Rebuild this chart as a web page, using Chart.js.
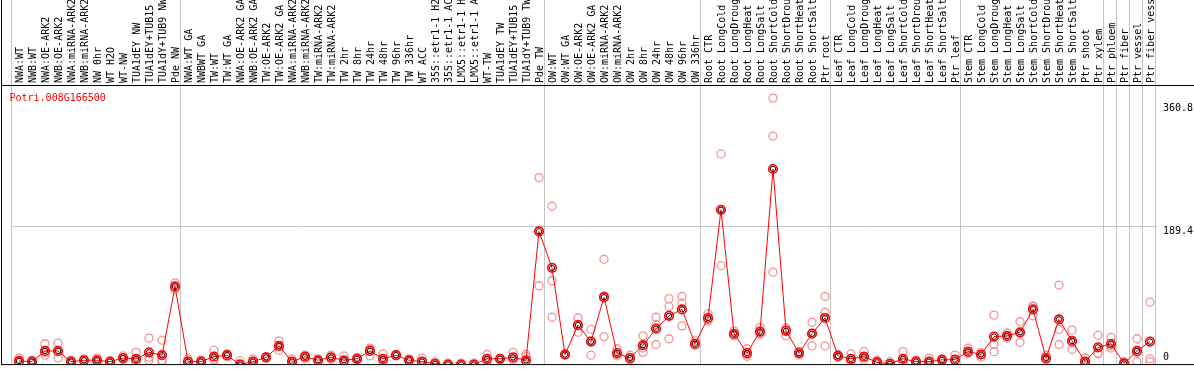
<!DOCTYPE html>
<html>
<head>
<meta charset="utf-8">
<script src="https://cdn.jsdelivr.net/npm/chart.js@4.4.1/dist/chart.umd.min.js"></script>
<style>
  html, body { margin: 0; padding: 0; background: #ffffff; }
  canvas { display: block; }
</style>
</head>
<body>
<canvas id="expressionChart" width="1194" height="370"></canvas>
<script>
const geneId = "Potri.008G166500";

const categories = [
  "NWA:WT", "NWB:WT", "NWA:OE-ARK2", "NWB:OE-ARK2", "NWA:miRNA-ARK2", "NWB:miRNA-ARK2",
  "NW 0hr", "WT H2O", "WT-NW", "TUA1dEY NW", "TUA1dEY+TUB15", "TUA1dY+TUB9 NW", "Pde NW",
  "NWA:WT GA", "NWBWT GA", "TW:WT", "TW:WT GA", "NWA:OE-ARK2 GA", "NWB:OE-ARK2 GA",
  "TW:OE-ARK2", "TW:OE-ARK2 GA", "NWA:miRNA-ARK2", "NWB:miRNA-ARK2", "TW:miRNA-ARK2",
  "TW:miRNA-ARK2", "TW 2hr", "TW 8hr", "TW 24hr", "TW 48hr", "TW 96hr", "TW 336hr",
  "WT ACC", "35S::etr1-1 H2", "35S::etr1-1 AC", "LMX5::etr1-1 H", "LMX5::etr1-1 A",
  "WT-TW", "TUA1dEY TW", "TUA1dEY+TUB15", "TUA1dY+TUB9 TW", "Pde TW",
  "OW:WT", "OW:WT GA", "OW:OE-ARK2", "OW:OE-ARK2 GA", "OW:miRNA-ARK2", "OW:miRNA-ARK2",
  "OW 2hr", "OW 8hr", "OW 24hr", "OW 48hr", "OW 96hr", "OW 336hr",
  "Root CTR", "Root LongCold", "Root LongDroug", "Root LongHeat", "Root LongSalt",
  "Root ShortCold", "Root ShortDrou", "Root ShortHeat", "Root ShortSalt", "Ptr root",
  "Leaf CTR", "Leaf LongCold", "Leaf LongDroug", "Leaf LongHeat", "Leaf LongSalt",
  "Leaf ShortCold", "Leaf ShortDrou", "Leaf ShortHeat", "Leaf ShortSalt", "Ptr leaf",
  "Stem CTR", "Stem LongCold", "Stem LongDroug", "Stem LongHeat", "Stem LongSalt",
  "Stem ShortCold", "Stem ShortDrou", "Stem ShortHeat", "Stem ShortSalt", "Ptr shoot",
  "Ptr xylem", "Ptr phloem", "Ptr fiber", "Ptr vessel", "Ptr fiber vess"
];

// first category index of each group, plus the end
const groupBreaks = [0, 13, 41, 53, 63, 73, 84, 85, 86, 87, 88];

const meanValues = [
  1, 0, 15, 15, 0, 2, 2, 0, 5, 4, 13, 9, 105,
  0, 0, 7, 9, -4, 0, 6, 22, 0, 7, 2, 6, 2, 4, 15, 4, 9, 2, 0, -3, -4, -4, -4, 4, 4, 6, 2, 182,
  131, 10, 51, 28, 90, 12, 5, 23, 46, 64, 73, 25,
  61, 212, 39, 12, 42, 269, 43, 12, 39, 61,
  8, 4, 7, -1, -3, 4, 0, 0, 2.5, 3,
  14, 10, 35, 36, 41, 73, 5, 59, 29, 0, 20,
  25, -2.5, 15, 28
];

const rep1 = [
  5, 2, 25, 26, 2, 4, 5, 1, 8, 13, 33, 30, 110,
  4, 2, 16, 11, 1, 4, 7, 29, 4, 9, 4, 9, 8, 6, 19, 11, 10, 4, 5, 0, -2, -2, -2, 10, 5, 13, 10, 257,
  217, 10, 61, 45, 143, 18, 9, 36, 62, 88, 91, 29,
  67, 290, 43, 18, 48, 368, 46, 14, 55, 91,
  10, 11, 14, 2, 0, 14, 2, 5, 4, 9,
  19, 13, 65, 40, 56, 78, 9, 107, 44, 5, 37,
  34, 0, 32, 83
];

const rep2 = [
  0, 0, 9, 5, 0, 1, 0, 0, 3, 0, 2, 2, 101,
  0, 0, 2, 7, -3, 0, 5, 16, 0, 4, 1, 3, 0, 3, 8, 0, 8, 1, 0, -3, -4, -4, -4, 0, 3, 3, 7, 106,
  113, 9, 41, 9, 35, 8, 3, 13, 24, 77, 82, 23,
  57, 134, 36, 7.5, 38, 315, 36, 9, 22, 69,
  6, 0, 2, 0, -3, 0, 0, 0, 1, 0,
  11, 6.6, 24, 33, 27, 64, 3, 45, 17, 0, 11,
  19, -2, 0, 4
];

const rep3 = [
  1, 0, 13, 15, 0, 2, 2, 0, 5, 1, 6, 0, 104,
  0, 0, 3, 9, -4, 0, 6, 21, 0, 7, 2, 6, 0, 4, 17, 2, 9, 2, 0, -3, -4, -4, -4, 2, 4, 3, 0, 183,
  62, 11, 52, 29, 92, 10, 3, 19, 52, 32, 50, 23,
  59, 212, 38, 10, 40, 125, 47, 13, 40, 22,
  8, 2, 5, 0, -3, 0, 0, 0, 2.5, 0,
  12, 10, 14, 36, 40, 77, 3, 24, 26, 0, 12,
  22, -2.5, 13, 0
];

const yTicks = [0, 189.4, 360.8];

const monoFont = "DejaVu Sans Mono";
const gridGray = "#c4c4c4";

const decorations = {
  id: "decorations",
  beforeDatasetsDraw(chart) {
    const { ctx, chartArea, scales } = chart;
    const x = scales.x;
    const step = x.getPixelForValue(1) - x.getPixelForValue(0);

    ctx.save();
    ctx.strokeStyle = gridGray;
    ctx.lineWidth = 1;
    groupBreaks.forEach((b) => {
      const px = Math.round(x.getPixelForValue(0) + (b - 0.5) * step - 1.5) + 0.5;
      ctx.beginPath();
      ctx.moveTo(px, 0);
      ctx.lineTo(px, chartArea.bottom);
      ctx.stroke();
    });

    // column headers, reading bottom to top
    ctx.font = `10px "${monoFont}"`;
    ctx.fillStyle = "#000000";
    ctx.textAlign = "left";
    ctx.textBaseline = "middle";
    categories.forEach((label, i) => {
      ctx.save();
      ctx.translate(Math.round(x.getPixelForValue(i)) + 1, chartArea.top - 2);
      ctx.rotate(-Math.PI / 2);
      ctx.fillText(label, 0, 0);
      ctx.restore();
    });
    ctx.restore();
  },
  afterDraw(chart) {
    const { ctx, chartArea, scales, width } = chart;
    const y = scales.y;

    ctx.save();
    ctx.strokeStyle = "#000000";
    ctx.lineWidth = 1;
    ctx.beginPath();
    ctx.moveTo(1.5, 0);
    ctx.lineTo(1.5, chartArea.bottom + 0.5);
    ctx.moveTo(1, chartArea.top + 0.5);
    ctx.lineTo(width, chartArea.top + 0.5);
    ctx.moveTo(1, chartArea.bottom + 0.5);
    ctx.lineTo(width, chartArea.bottom + 0.5);
    ctx.stroke();

    ctx.font = `10px "${monoFont}"`;
    ctx.textAlign = "left";
    ctx.textBaseline = "alphabetic";
    ctx.fillStyle = "#ff0000";
    ctx.fillText(geneId, 9.5, chartArea.top + 16);

    ctx.fillStyle = "#000000";
    yTicks.forEach((v) => {
      const py = y.getPixelForValue(v);
      const label = String(v);
      if (v === 0) {
        ctx.fillText(label, chartArea.right + 6.5, py - 1.5);
      } else {
        ctx.fillText(label, chartArea.right + 6.5, py + 8);
      }
    });
    ctx.restore();
  }
};

const repStyle = {
  showLine: false,
  pointRadius: 4,
  pointBorderWidth: 1.3,
  pointBorderColor: "#f29494",
  pointBackgroundColor: "rgba(0,0,0,0)",
  order: 3
};

new Chart(document.getElementById("expressionChart"), {
  type: "line",
  data: {
    labels: categories,
    datasets: [
      { label: "inner", data: meanValues, showLine: false, pointRadius: 2.7, pointBorderWidth: 1,
        pointBorderColor: "#300000", pointBackgroundColor: "rgba(0,0,0,0)", order: 0 },
      { label: "mean", data: meanValues, borderColor: "#ff0000", borderWidth: 1, pointRadius: 4.3,
        pointBorderWidth: 1.6, pointBorderColor: "#ff0000", pointBackgroundColor: "rgba(0,0,0,0)",
        tension: 0, order: 1 },
      { label: "rep1", data: rep1, ...repStyle },
      { label: "rep2", data: rep2, ...repStyle },
      { label: "rep3", data: rep3, ...repStyle }
    ]
  },
  options: {
    responsive: false,
    animation: false,
    devicePixelRatio: 1,
    events: [],
    layout: {
      padding: { left: 12.5, right: 0, top: 0, bottom: 1 }
    },
    plugins: {
      legend: { display: false },
      tooltip: { enabled: false }
    },
    scales: {
      x: {
        type: "category",
        position: "top",
        offset: true,
        grid: { display: false, drawTicks: false },
        border: { display: false },
        ticks: { display: false },
        afterFit(scale) {
          scale.height = 85;
        }
      },
      y: {
        position: "right",
        min: -3.4,
        max: 386.3,
        afterBuildTicks(scale) {
          scale.ticks = yTicks.map((v) => ({ value: v }));
        },
        ticks: { display: false },
        grid: {
          drawTicks: false,
          color: (context) => (context.tick && context.tick.value === 189.4 ? gridGray : "rgba(0,0,0,0)")
        },
        border: { display: false },
        afterFit(scale) {
          scale.width = 37.5;
        }
      }
    }
  },
  plugins: [decorations]
});
</script>
</body>
</html>
